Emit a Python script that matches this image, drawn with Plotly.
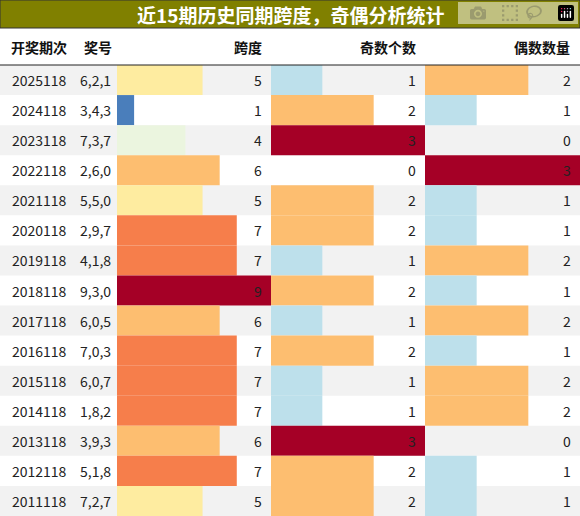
import plotly.graph_objects as go

periods = ["2025118", "2024118", "2023118", "2022118", "2021118", "2020118", "2019118", "2018118",
           "2017118", "2016118", "2015118", "2014118", "2013118", "2012118", "2011118"]
numbers = ["6,2,1", "3,4,3", "7,3,7", "2,6,0", "5,5,0", "2,9,7", "4,1,8", "9,3,0",
           "6,0,5", "7,0,3", "6,0,7", "1,8,2", "3,9,3", "5,1,8", "7,2,7"]
span = [5, 1, 4, 6, 5, 7, 7, 9, 6, 7, 7, 7, 6, 7, 5]
odd_cnt = [1, 2, 3, 0, 2, 2, 1, 2, 1, 2, 1, 1, 3, 2, 2]
even_cnt = [2, 1, 0, 3, 1, 1, 2, 1, 2, 1, 2, 2, 0, 1, 1]

span_colors = {1: "#4a7ebb", 4: "#ebf5df", 5: "#feeca0", 6: "#fdbe70", 7: "#f67e4b", 9: "#a50026"}
cnt_colors = {0: "#ffffff", 1: "#bde0eb", 2: "#fdbe70", 3: "#a50026"}

W, H = 580, 516
px_x = lambda p: p / W
px_y = lambda p: 1 - p / H
rows = list(range(len(periods)))

fig = go.Figure()
shapes = []
for i in rows:
    if i % 2 == 0:
        shapes.append(dict(type="rect", xref="paper", yref="y", x0=0, x1=1, y0=i - 0.5, y1=i + 0.5,
                           fillcolor="#f2f2f2", line_width=0, layer="below"))

cols = [("x", span, span_colors, [117, 271], 9), ("x2", odd_cnt, cnt_colors, [271, 425], 3),
        ("x3", even_cnt, cnt_colors, [425, 580], 3)]
annotations = []
for ax, vals, cmap, dom, mx in cols:
    fig.add_trace(go.Bar(x=vals, y=rows, orientation="h", xaxis=ax, yaxis="y", width=1,
                         marker=dict(color=[cmap[v] for v in vals], line_width=0), showlegend=False,
                         hoverinfo="skip"))
    key = "xaxis" if ax == "x" else "xaxis" + ax[1:]
    fig.update_layout(**{key: dict(domain=[px_x(dom[0]), px_x(dom[1])], range=[0, mx], visible=False,
                                   fixedrange=True)})
    for i, v in zip(rows, vals):
        annotations.append(dict(xref="paper", yref="y", x=px_x(dom[1] - 7), y=i, text=str(v),
                                xanchor="right", yanchor="middle", showarrow=False,
                                font=dict(size=14, color="#222")))

for i in rows:
    annotations.append(dict(xref="paper", yref="y", x=px_x(10), y=i, text=periods[i], xanchor="left",
                            yanchor="middle", showarrow=False, font=dict(size=14, color="#222")))
    annotations.append(dict(xref="paper", yref="y", x=px_x(78), y=i, text=numbers[i], xanchor="left",
                            yanchor="middle", showarrow=False, font=dict(size=14, color="#222")))

headers = [("开奖期次", 9, "left"), ("奖号", 82, "left"), ("跨度", 264, "right"),
           ("奇数个数", 418, "right"), ("偶数数量", 572, "right")]
for t, x, anc in headers:
    annotations.append(dict(xref="paper", yref="paper", x=px_x(x), y=px_y(47), text="<b>" + t + "</b>",
                            xanchor=anc, yanchor="middle", showarrow=False,
                            font=dict(size=14, color="#111")))

shapes.append(dict(type="rect", xref="paper", yref="paper", x0=0, x1=1, y0=px_y(28), y1=1,
                   fillcolor="#808000", line=dict(color="#333", width=1)))
shapes.append(dict(type="line", xref="paper", yref="paper", x0=0, x1=1, y0=px_y(65), y1=px_y(65),
                   line=dict(color="#222", width=1)))
annotations.append(dict(xref="paper", yref="paper", x=0.5, y=px_y(14), yanchor="middle",
                        text="<b>近15期历史同期跨度，奇偶分析统计</b>", showarrow=False,
                        font=dict(size=19, color="white", family="Noto Sans CJK SC")))

fig.update_layout(
    width=W, height=H, margin=dict(l=0, r=0, t=0, b=0), paper_bgcolor="white", plot_bgcolor="white",
    font=dict(family="Noto Sans CJK SC, Noto Sans"), barmode="overlay",
    yaxis=dict(domain=[0, 1 - 65 / H], range=[14.5, -0.5], visible=False, fixedrange=True),
    shapes=shapes, annotations=annotations,
)
fig.write_html("out.html", post_script="document.body.style.margin='0px';")
